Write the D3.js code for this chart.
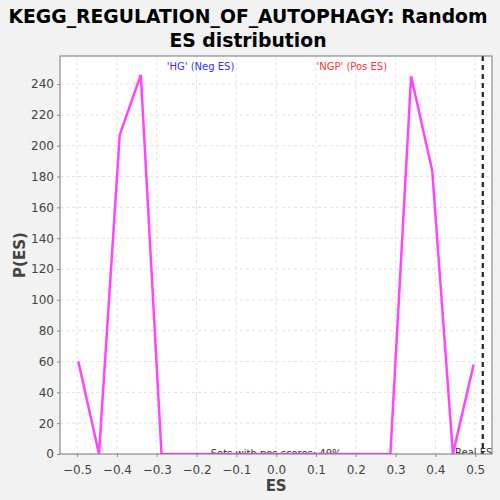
<!DOCTYPE html>
<html><head><meta charset="utf-8">
<script src="https://cdn.jsdelivr.net/npm/d3@7"></script>
<style>body{margin:0;background:#f2f2f2;}svg{display:block;}</style>
</head><body><svg id="c" width="500" height="500"></svg>
<script>
const esValues = [-0.497,-0.445,-0.393,-0.340,-0.288,-0.236,-0.184,-0.131,-0.079,-0.027,0.025,0.078,0.130,0.182,0.235,0.287,0.339,0.392,0.444,0.496];
const pValues = [60,0,207,246,0,0,0,0,0,0,0,0,0,0,0,0,245,184,0,58];
const xTicks = [-0.5,-0.4,-0.3,-0.2,-0.1,0.0,0.1,0.2,0.3,0.4,0.5];
const yTicks = [0,20,40,60,80,100,120,140,160,180,200,220,240];
const realES = 0.519;
const titleLines = ["KEGG_REGULATION_OF_AUTOPHAGY: Random","ES distribution"];
const negLabel = "'HG' (Neg ES)", posLabel = "'NGP' (Pos ES)";
const posText = "Sets with pos scores: 49%";

const svg = d3.select("#c");
const L=60,R=492,T=56,B=454;
const x = d3.scaleLinear().domain([-0.543,0.5422]).range([L,R]);
const y = d3.scaleLinear().domain([0,258.2]).range([B,T]);

svg.append("rect").attr("x",L).attr("y",T).attr("width",R-L).attr("height",B-T).attr("fill","#fff");
svg.append("defs").append("clipPath").attr("id","clip").append("rect").attr("x",L).attr("y",T).attr("width",R-L).attr("height",B-T);

const g = svg.append("g").attr("clip-path","url(#clip)");
g.selectAll(".gx").data(xTicks).join("line").attr("x1",d=>x(d)).attr("x2",d=>x(d)).attr("y1",T).attr("y2",B)
 .attr("stroke","#e2e2e2").attr("stroke-dasharray","3,3");
g.selectAll(".gy").data(yTicks).join("line").attr("y1",d=>y(d)).attr("y2",d=>y(d)).attr("x1",L).attr("x2",R)
 .attr("stroke","#e2e2e2").attr("stroke-dasharray","3,3");

g.append("text").attr("x",x(-0.19)).attr("y",70).attr("text-anchor","middle").attr("fill","#3333ff")
 .attr("font-family","DejaVu Sans").attr("font-size",10).text(negLabel);
g.append("text").attr("x",x(0.19)).attr("y",70).attr("text-anchor","middle").attr("fill","#ff3333")
 .attr("font-family","DejaVu Sans").attr("font-size",10).text(posLabel);

g.append("text").attr("x",x(0.0)).attr("y",457).attr("text-anchor","middle").attr("fill","#333")
 .attr("font-family","DejaVu Sans").attr("font-size",10).text(posText);

g.append("line").attr("x1",x(realES)).attr("x2",x(realES)).attr("y1",T).attr("y2",B)
 .attr("stroke","#222").attr("stroke-width",2.2).attr("stroke-dasharray","5,4");
g.append("text").attr("x",455).attr("y",456).attr("fill","#333")
 .attr("font-family","DejaVu Sans").attr("font-size",10).text("Real ES 0.52");

const line = d3.line().x((d,i)=>x(esValues[i])).y(d=>y(d));
g.append("path").datum(pValues).attr("d",line).attr("fill","none").attr("stroke","#ff44ff").attr("stroke-width",2.5);

svg.append("rect").attr("x",L).attr("y",T).attr("width",R-L).attr("height",B-T).attr("fill","none").attr("stroke","#777");

const xa = svg.append("g").attr("transform",`translate(0,${B})`)
 .call(d3.axisBottom(x).tickValues(xTicks).tickFormat(d3.format(".1f")).tickSize(3).tickSizeOuter(0));
const ya = svg.append("g").attr("transform",`translate(${L},0)`)
 .call(d3.axisLeft(y).tickValues(yTicks).tickSize(3).tickSizeOuter(0));
[xa,ya].forEach(a=>{a.select(".domain").remove();a.selectAll("line").attr("stroke","#888");
 a.selectAll("text").attr("fill","#444").attr("font-family","DejaVu Sans").attr("font-size",12);});
xa.selectAll("text").attr("dy","1.2em");

svg.append("text").attr("x",x(0)).attr("y",491).attr("text-anchor","middle").attr("font-family","DejaVu Sans")
 .attr("font-weight","bold").attr("font-size",15).attr("fill","#444").text("ES");
svg.append("text").attr("transform","translate(25,255) rotate(-90)").attr("text-anchor","middle").attr("font-family","DejaVu Sans")
 .attr("font-weight","bold").attr("font-size",15).attr("fill","#444").text("P(ES)");

svg.selectAll(".title").data(titleLines).join("text").attr("x",248).attr("y",(d,i)=>23+i*24).attr("text-anchor","middle")
 .attr("font-family","DejaVu Sans").attr("font-weight","bold").attr("font-size",18.8).attr("fill","#000").text(d=>d);
</script></body></html>
